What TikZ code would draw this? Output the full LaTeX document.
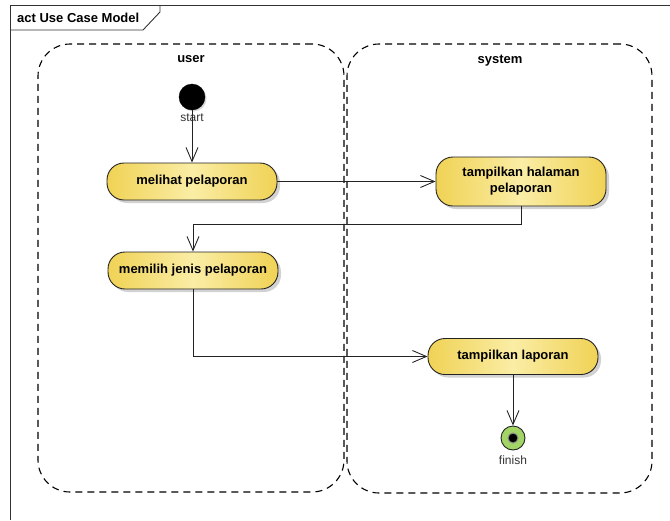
\documentclass[tikz,border=0pt]{standalone}
\usepackage{fontspec}
\setmainfont{Liberation Sans}
\usetikzlibrary{arrows.meta,shadows}
\definecolor{ylA}{RGB}{240,210,85}
\definecolor{ylB}{RGB}{250,237,165}
\definecolor{grnF}{RGB}{162,212,102}
\definecolor{lineC}{RGB}{35,35,35}
\begin{document}
\begin{tikzpicture}[x=1pt,y=-1pt,
  act/.style={draw=lineC, line width=0.9pt, rounded corners=17pt,
    minimum width=170pt, minimum height=37pt, inner sep=2pt, align=center,
    font=\fontsize{13}{16}\selectfont\bfseries,
    left color=ylA, right color=ylA, middle color=ylB,
    drop shadow={shadow xshift=3pt, shadow yshift=-3pt, fill=black!35, opacity=0.5}},
  lane/.style={draw=black, line width=1.1pt, dash pattern=on 7pt off 5pt,
    rounded corners=32pt, inner sep=0pt},
  lanelbl/.style={font=\fontsize{13}{15}\selectfont\bfseries, inner sep=0pt},
  arr/.style={draw=lineC, line width=0.9pt, -{Straight Barb[length=14pt,width=12pt]}},
  lbl/.style={font=\fontsize{12}{14}\selectfont, text=black!80, inner sep=0pt},
  frm/.style={draw=black!80, line width=0.9pt}]
\useasboundingbox (0,0) rectangle (670,520);
% frame
\draw[frm] (10,520) -- (10,5) -- (670,5);
\draw[frm] (10,30) -- (143,30) -- (160,12) -- (160,5);
\node[anchor=west, font=\fontsize{13}{15}\selectfont\bfseries, inner sep=0pt] (title) at (17,18) {act Use Case Model};
% lanes
\node[lane, minimum width=306pt, minimum height=448pt] (userlane) at (191,268) {};
\node[lane, minimum width=305pt, minimum height=449pt] (syslane) at (499.5,268.5) {};
\node[lanelbl] (userlbl) at (191,59) {user};
\node[lanelbl] (syslbl) at (500,61) {system};
% start
\node[circle, fill=black, draw=black, minimum size=26pt, inner sep=0pt,
  drop shadow={shadow xshift=1.5pt, shadow yshift=-1.5pt, fill=black!30}] (start) at (192,97) {};
\node[lbl] (startlbl) at (192,118) {start};
% actions
\node[act] (melihat) at (192,181.5) {melihat pelaporan};
\node[act, minimum height=49pt] (halaman) at (521,181.5) {tampilkan halaman\\pelaporan};
\node[act] (memilih) at (193,270.5) {memilih jenis pelaporan};
\node[act, minimum height=36pt] (laporan) at (513,356.5) {tampilkan laporan};
% finish
\node[circle, fill=grnF, draw=lineC, line width=0.9pt, minimum size=24pt, inner sep=0pt] (finish) at (513,438) {};
\node[circle, fill=black, draw=black!45, line width=1pt, minimum size=10pt, inner sep=0pt] (finishdot) at (finish.center) {};
\node[lbl] (finishlbl) at (513,460) {finish};
% flows
\draw[arr] (start) -- (melihat);
\draw[arr] (melihat) -- (halaman);
\draw[arr] (halaman.south) -- ++(0,18) -| (memilih.north);
\draw[arr] (memilih.south) |- (laporan.west);
\draw[arr] (laporan) -- (finish);
\end{tikzpicture}
\end{document}
